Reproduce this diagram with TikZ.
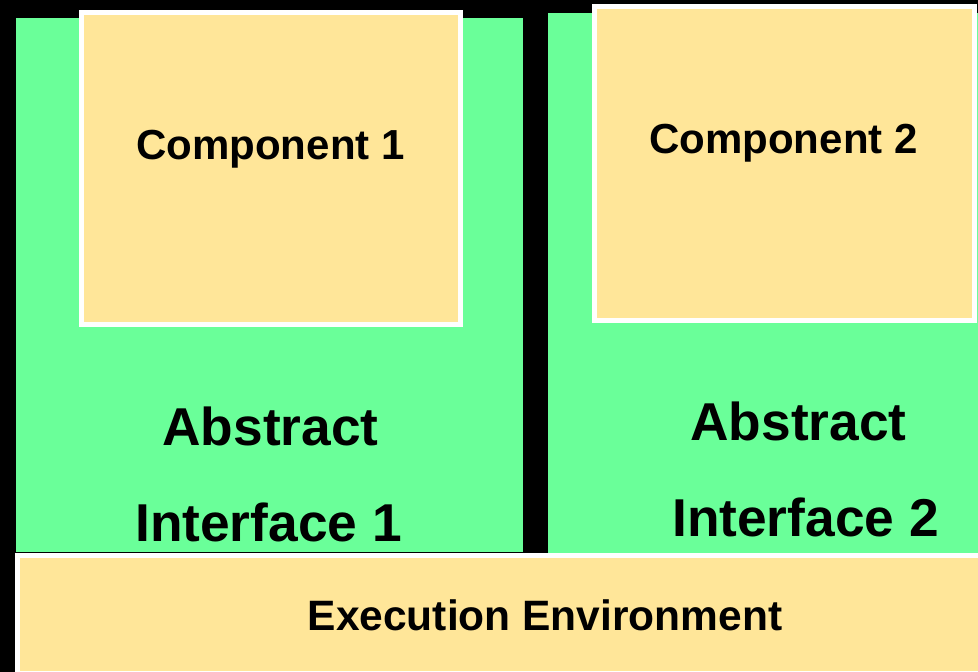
\documentclass[tikz,border=0pt]{standalone}
\usepackage{fontspec}
\setmainfont{Liberation Sans}
\definecolor{layergreen}{RGB}{106,255,153}
\definecolor{boxyellow}{RGB}{255,230,153}
\tikzset{
  layer/.style={fill=layergreen, draw=none, rectangle, inner sep=0pt},
  compbox/.style={fill=boxyellow, draw=white, line width=5pt, rectangle, inner sep=0pt},
  bigtxt/.style={anchor=base, inner sep=0pt, font=\bfseries\fontsize{53.3}{60}\selectfont},
  midtxt/.style={anchor=base, inner sep=0pt, font=\bfseries\fontsize{42}{50}\selectfont},
  eetxt/.style={anchor=base, inner sep=0pt, font=\bfseries\fontsize{42.5}{50}\selectfont},
}
\begin{document}
\begin{tikzpicture}[x=1pt, y=-1pt]
  % page frame on a black ground
  \fill[black] (0,0) rectangle (978,672);
  \useasboundingbox (0,0) rectangle (978,672);

  % abstract interface layers
  \node[layer, minimum width=507pt, minimum height=534pt] (ai1) at (269.5,285) {};
  \node[layer, minimum width=430pt, minimum height=540pt] (ai2) at (763,283) {};

  % components sitting on top of the layers
  \node[compbox, minimum width=379pt, minimum height=312.5pt] (c1) at (271,168.25) {};
  \node[compbox, minimum width=380pt, minimum height=314pt] (c2) at (784.5,163.5) {};

  % execution environment along the bottom
  \node[compbox, minimum width=968pt, minimum height=117.5pt] (ee) at (501,614.25) {};

  % labels
  \node[midtxt] (c1t) at (270.5,159) {Component 1};
  \node[midtxt] (c2t) at (783.5,153) {Component 2};
  \node[bigtxt] (ai1a) at (270.5,445) {Abstract};
  \node[bigtxt] (ai1b) at (268.5,541) {Interface 1};
  \node[bigtxt] (ai2a) at (798.5,440) {Abstract};
  \node[bigtxt] (ai2b) at (805.5,536) {Interface 2};
  \node[eetxt] (eet) at (545,630) {Execution Environment};
\end{tikzpicture}
\end{document}
